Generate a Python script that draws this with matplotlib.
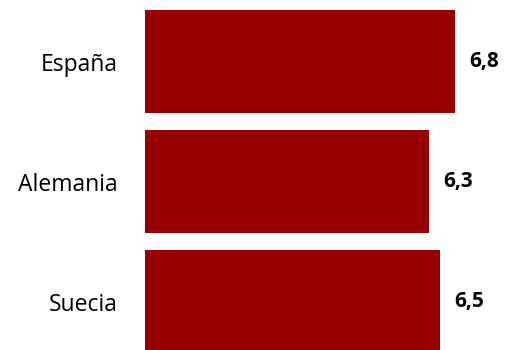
import matplotlib.pyplot as plt

paises = ["España", "Alemania", "Suecia"]
valores = [6.8, 6.3, 6.5]
etiquetas = ["6,8", "6,3", "6,5"]

plt.rcParams['font.family'] = ['Open Sans', 'DejaVu Sans']

fig = plt.figure(figsize=(5.06, 3.5), dpi=100)
ax = fig.add_axes([145/506, 0, 1 - 145/506, 1])

pos = range(len(paises))
ax.barh(pos, valores, height=0.86, color="#990000")
ax.set_xlim(0.905, 7.76)
ax.set_ylim(2.402, -0.515)

for p, v, t in zip(pos, valores, etiquetas):
    ax.text(v + 0.27, p, t, va="center", ha="left", fontsize=15, fontweight="bold")

ax.set_yticks(list(pos))
ax.set_yticklabels(paises, fontsize=16.5)
ax.tick_params(axis="y", length=0, pad=19.5)
ax.set_xticks([])
for s in ax.spines.values():
    s.set_visible(False)

fig.savefig("out.png", dpi=100)
